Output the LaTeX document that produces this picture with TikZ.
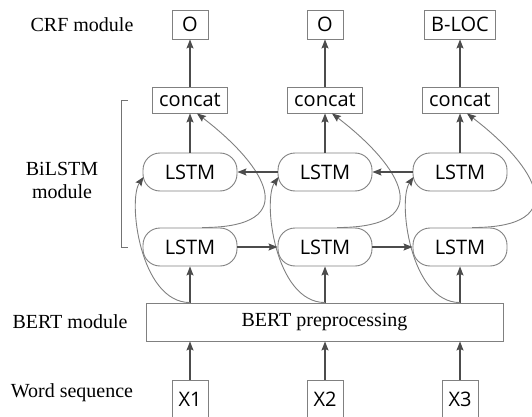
\documentclass[tikz,border=0pt]{standalone}
\usepackage{fontspec}
\setmainfont{Liberation Serif}
\newfontfamily\boxfont{Open Sans}
\usetikzlibrary{arrows.meta}
\begin{document}
\begin{tikzpicture}[x=1pt,y=-1pt,
  lbl/.style={font=\fontsize{20}{23}\selectfont, text=black, align=center},
  sqbox/.style={draw=black!50, line width=0.9pt, inner sep=0pt, font=\boxfont\fontsize{20}{22}\selectfont, text=black},
  lstm/.style={sqbox, rounded corners=17pt, minimum width=94pt, minimum height=38pt},
  ccat/.style={sqbox, minimum width=75pt, minimum height=26pt},
  obox/.style={sqbox, minimum width=36pt, minimum height=29pt},
  xbox/.style={sqbox, minimum width=36pt, minimum height=38pt},
  tip/.style={-{Stealth[length=9pt,width=7pt,inset=1.5pt]}},
  arr/.style={draw=black!70, line width=1.1pt, tip},
  crv/.style={draw=black!50, line width=0.9pt, -{Stealth[length=9pt,width=7pt,inset=1.5pt,fill=black!70,color=black!70]}}
]
\useasboundingbox (0,0) rectangle (532,417);
% labels
\node[lbl] (crf) at (82,25) {CRF module};
\node[lbl] (bil) at (62,180) {BiLSTM\\module};
\node[lbl] (bertl) at (70,322) {BERT module};
\node[lbl] (ws) at (72,393) {Word sequence};
\draw[draw=black!55, line width=0.8pt] (128,100) -- (121,100) -- (121,247) -- (128,247);
% outputs
\node[obox] (o1) at (190,24.5) {O};
\node[obox] (o2) at (325,24.5) {O};
\node[obox, minimum width=71pt] (o3) at (460,24.5) {B-LOC};
% concat
\node[ccat] (c1) at (190,100) {concat};
\node[ccat] (c2) at (325,100) {concat};
\node[ccat, minimum width=76pt] (c3) at (460,100) {concat};
% LSTMs
\node[lstm] (u1) at (190,172) {LSTM};
\node[lstm] (u2) at (325,172) {LSTM};
\node[lstm] (u3) at (460,172) {LSTM};
\node[lstm] (l1) at (190,247) {LSTM};
\node[lstm] (l2) at (325,247) {LSTM};
\node[lstm] (l3) at (460,247) {LSTM};
% BERT
\node[draw=black!50, line width=0.9pt, minimum width=357pt, minimum height=38pt, inner sep=0pt, font=\fontsize{20}{22}\selectfont, text=black] (bert) at (324.5,322) {BERT preprocessing};
% inputs
\node[xbox] (x1) at (190,399) {X1};
\node[xbox] (x2) at (325,399) {X2};
\node[xbox] (x3) at (460,399) {X3};
% vertical arrows
\foreach \i in {1,2,3}{
  \draw[arr] (c\i.north) -- (o\i.south);
  \draw[arr] (u\i.north) -- (c\i.south);
  \draw[arr] (l\i.south |- bert.north) -- (l\i.south);
  \draw[arr] (x\i.north) -- (x\i.north |- bert.south);
  % curves
  \draw[crv] ([xshift=12pt]l\i.north) .. controls +(103,0) and +(68,52) .. ([xshift=7pt]c\i.south);
  \draw[crv] (l\i.south |- bert.north) .. controls +(-50,0) and +(-16,23) .. ([yshift=-5pt,xshift=1pt]u\i.west);
}
% horizontal arrows
\draw[arr] (u2.west) -- (u1.east);
\draw[arr] (u3.west) -- (u2.east);
\draw[arr] (l1.east) -- (l2.west);
\draw[arr] (l2.east) -- (l3.west);
\end{tikzpicture}
\end{document}
